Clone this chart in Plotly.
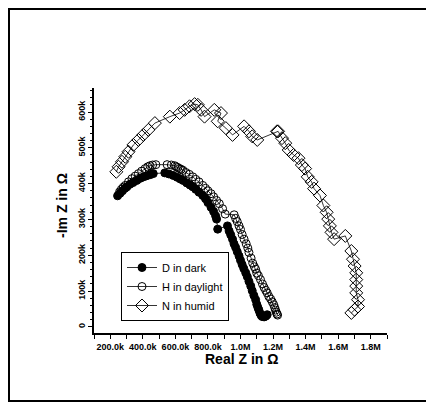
import plotly.graph_objects as go

# Data (Real Z in MOhm, -Im Z in kOhm)
d_x = [0.245,0.26,0.275,0.29,0.302,0.32,0.34,0.363,0.385,0.405,0.424,0.445,0.464,
       0.535,0.56,0.586,0.61,0.63,0.647,0.67,0.69,0.707,0.725,0.745,0.768,0.785,0.80,
       0.819,0.835,0.847,0.853,0.860,0.920,0.93,0.94,0.951,0.96,0.97,0.98,0.991,1.00,
       1.01,1.02,1.032,1.042,1.052,1.063,1.072,1.082,1.093,1.10,1.107,1.113,1.12,1.127,
       1.133,1.145,1.155,1.164]
d_y = [366,373,380,387,391,398,403,409,415,419,422,425,428,
       430,427,423,418,413,409,402,396,391,384,376,367,358,347,
       334,322,310,301,273,282,268,257,245,232,222,210,198,186,
       174,163,151,140,127,114,101,88,76,63,54,47,38,32,
       29,28,30,34]

h_x = [0.257,0.268,0.28,0.292,0.312,0.333,0.353,0.373,0.393,0.414,0.43,0.444,0.46,0.48,
       0.549,0.575,0.596,0.605,0.615,0.625,0.635,0.647,0.665,0.685,0.707,0.725,0.745,0.768,
       0.785,0.80,0.819,0.835,0.853,0.870,0.89,0.906,0.961,0.97,0.98,0.991,1.00,1.01,1.022,
       1.035,1.045,1.052,1.065,1.075,1.085,1.093,1.10,1.11,1.123,1.135,1.145,1.155,1.164,
       1.174,1.185,1.195,1.204,1.21,1.215,1.22,1.224,1.228]
h_y = [377,384,390,395,405,414,421,428,435,442,447,450,452,453,
       453,452,450,447,445,442,440,437,431,426,419,412,405,395,
       387,380,372,363,353,344,330,315,313,303,294,282,272,258,245,
       232,220,208,192,178,168,161,150,143,132,120,110,102,95,
       85,78,70,62,54,47,41,36,33]

n_x = [0.237,0.251,0.272,0.292,0.312,0.342,0.373,0.403,0.434,0.474,0.566,0.626,0.657,
       0.687,0.718,0.738,0.758,0.779,0.839,0.880,0.860,0.910,0.951,1.022,1.052,1.072,
       1.103,1.224,1.231,1.255,1.275,1.296,1.326,1.356,1.377,1.397,1.413,1.437,1.452,
       1.488,1.509,1.529,1.539,1.549,1.559,1.575,1.644,1.681,1.691,1.701,1.711,1.711,
       1.711,1.711,1.722,1.722,1.701,1.681]
n_y = [433,447,461,475,489,508,522,536,550,569,587,597,606,
       616,622,620,606,587,606,597,574,555,536,560,546,532,
       522,546,546,527,513,494,480,471,452,442,419,405,386,
       367,339,320,301,282,264,245,254,212,189,170,151,132,
       114,95,76,57,48,39]

series_names = ["D in dark", "H in daylight", "N in humid"]

x_tickvals = [0.2,0.4,0.6,0.8,1.0,1.2,1.4,1.6,1.8]
x_ticktext = ["200.0k","400.0k","600.0k","800.0k","1.0M","1.2M","1.4M","1.6M","1.8M"]
y_tickvals = [0,100,200,300,400,500,600]
y_ticktext = ["0","100k","200k","300k","400k","500k","600k"]

fig = go.Figure()
fig.add_trace(go.Scatter(x=d_x, y=d_y, mode="lines+markers", name=series_names[0],
    line=dict(color="black", width=0.8),
    marker=dict(symbol="circle", size=8, color="black", line=dict(color="black", width=1))))
fig.add_trace(go.Scatter(x=h_x, y=h_y, mode="lines+markers", name=series_names[1],
    line=dict(color="black", width=0.8),
    marker=dict(symbol="circle-open", size=8, color="black", line=dict(color="black", width=1))))
fig.add_trace(go.Scatter(x=n_x, y=n_y, mode="lines+markers", name=series_names[2],
    line=dict(color="black", width=0.8),
    marker=dict(symbol="diamond-open", size=10, color="black", line=dict(color="black", width=1))))

# page has an 8px body margin; positions below are page pixels
OFF = 8
L, R, T, B = 94, 387, 88, 333
W, H = 434 - OFF, 405 - OFF
pw, ph = R - L, B - T

def px(xp):
    return (xp - L) / pw

def py(yp):
    return (B - yp) / ph

tickfont = dict(size=9, family="Liberation Sans Narrow, Liberation Sans, Arial", weight="bold")

fig.update_layout(
    width=W, height=H,
    margin=dict(l=L - OFF, r=W - (R - OFF), t=T - OFF, b=H - (B - OFF), pad=0),
    paper_bgcolor="white", plot_bgcolor="white",
    font=dict(family="Liberation Sans, Arial", color="black"),
    showlegend=True,
    legend=dict(x=px(121), y=py(252), xanchor="left", yanchor="top",
                bgcolor="white", bordercolor="black", borderwidth=1,
                font=dict(size=11, family="Liberation Sans, Arial"),
                tracegroupgap=0, itemwidth=30),
    xaxis=dict(range=[0.1, 1.9], showgrid=False, zeroline=False,
               showline=True, linecolor="black", linewidth=1.5,
               ticks="outside", ticklen=4, tickwidth=1, tickcolor="black",
               tickvals=x_tickvals, ticktext=x_ticktext, tickfont=tickfont,
               minor=dict(dtick=0.1, tick0=0.1, ticks="outside", ticklen=4, tickcolor="black", tickwidth=1)),
    yaxis=dict(range=[-17, 667], showgrid=False, zeroline=False,
               showline=True, linecolor="black", linewidth=1.5,
               ticks="outside", ticklen=4, tickwidth=1, tickcolor="black",
               tickvals=y_tickvals, ticktext=y_ticktext, tickangle=-90, tickfont=tickfont,
               minor=dict(dtick=20, tick0=0, ticks="outside", ticklen=2, tickcolor="black", tickwidth=1)),
    annotations=[
        dict(text="<b>Real Z in Ω</b>", xref="paper", yref="paper",
             x=px(241), y=py(359), xanchor="center", yanchor="middle",
             showarrow=False, font=dict(size=14)),
        dict(text="<b>-Im Z in Ω</b>", xref="paper", yref="paper",
             x=px(62), y=py(206), xanchor="center", yanchor="middle",
             textangle=-90, showarrow=False, font=dict(size=14)),
    ],
    shapes=[dict(type="rect", xref="paper", yref="paper",
                 x0=px(9), x1=px(445), y0=py(401), y1=py(9),
                 line=dict(color="black", width=2), fillcolor="rgba(0,0,0,0)", layer="below")],
)

fig.write_html("out.html")
